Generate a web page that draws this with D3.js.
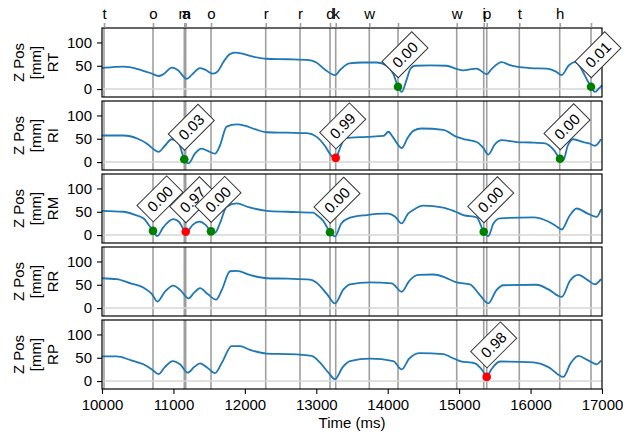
<!DOCTYPE html>
<html>
<head>
<meta charset="utf-8">
<script src="https://cdn.jsdelivr.net/npm/d3@7"></script>
<style>
  body { margin: 0; background: #fff; }
  svg { font-family: "Liberation Sans", Arial, sans-serif; }
</style>
</head>
<body>
<svg width="623" height="436"></svg>
<script>
// key press times (ms) and the typed character
const eventTimes = [10028, 10714, 11152, 11172, 11526, 12292, 12772, 13192, 13272, 13742, 14144, 14966, 15344, 15386, 15842, 16408, 16846];
const eventLabels = ["t", "o", "m", "a", "o", "r", "r", "d", "k", "w", " ", "w", "i", "p", "t", "h", " "];

const fingers = ["RT", "RI", "RM", "RR", "RP"];

// [time ms, z mm]
const zRT = [[10000,45],[10150,47],[10300,48],[10500,43],[10700,33],[10790,28],[10850,31],[10980,46],[11060,41],[11185,22],[11260,31],[11372,45],[11450,41],[11555,33],[11620,38],[11700,58],[11790,75],[11870,78],[11960,76],[12100,70],[12300,65],[12600,64],[12900,62],[13000,57],[13120,42],[13262,30],[13340,42],[13460,55],[13650,57],[13850,57],[13985,50],[14080,32],[14144,5],[14196,-6],[14260,18],[14320,44],[14382,50],[14600,51],[14825,50],[14950,44],[15055,40],[15245,44],[15386,32],[15460,44],[15596,58],[15700,52],[15806,48],[16000,45],[16226,44],[16350,38],[16436,30],[16530,50],[16622,58],[16700,46],[16790,20],[16846,5],[16902,-6],[16960,2],[17000,8]];
const zRI = [[10000,57],[10300,57],[10500,50],[10625,40],[10720,28],[10790,22],[10880,35],[10975,49],[11066,43],[11152,6],[11212,-3],[11300,18],[11393,29],[11480,24],[11582,18],[11650,35],[11745,76],[11885,81],[12000,78],[12150,70],[12306,64],[12600,63],[12866,62],[13006,54],[13120,35],[13216,13],[13272,9],[13332,30],[13402,51],[13705,54],[13940,56],[14010,65],[14070,54],[14196,30],[14280,52],[14358,67],[14476,72],[14778,69],[14965,54],[15100,48],[15245,43],[15340,30],[15408,16],[15500,38],[15596,47],[15806,43],[16000,42],[16202,40],[16330,25],[16412,7],[16458,4],[16520,35],[16598,49],[16738,43],[16820,40],[16902,35],[16986,49]];
const zRM = [[10000,52],[10299,50],[10450,44],[10579,36],[10714,9],[10775,-2],[10850,15],[10999,34],[11080,28],[11172,7],[11186,7],[11270,22],[11362,29],[11450,22],[11526,8],[11582,5],[11650,25],[11745,61],[11885,68],[12050,60],[12306,52],[12600,50],[12958,48],[13006,43],[13100,30],[13192,6],[13262,-3],[13350,25],[13448,36],[13705,43],[13950,46],[14008,46],[14100,40],[14196,25],[14280,45],[14358,54],[14498,63],[14778,59],[14950,50],[15058,43],[15245,38],[15344,7],[15408,-2],[15480,25],[15572,36],[16038,38],[16248,29],[16350,20],[16436,12],[16540,40],[16646,57],[16800,46],[16926,39],[16986,55]];
const zRR = [[10000,64],[10205,62],[10400,53],[10579,44],[10700,30],[10775,14],[10880,35],[10999,48],[11100,38],[11212,21],[11290,33],[11372,43],[11480,30],[11596,18],[11680,40],[11792,79],[11885,80],[12072,71],[12306,64],[12600,63],[12912,61],[13000,55],[13150,30],[13262,10],[13380,40],[13472,51],[13752,55],[14056,53],[14196,35],[14300,58],[14428,71],[14638,72],[14800,66],[14965,55],[15152,51],[15280,30],[15408,10],[15520,38],[15618,49],[16085,50],[16250,40],[16436,24],[16550,58],[16668,71],[16800,60],[16902,51],[16986,62]];
const zRP = [[10000,53],[10205,53],[10400,45],[10579,36],[10700,25],[10789,15],[10880,30],[10990,43],[11100,35],[11200,18],[11290,30],[11372,38],[11480,28],[11582,17],[11680,40],[11815,75],[11932,75],[12072,67],[12306,59],[12600,58],[12936,54],[13050,40],[13170,18],[13262,4],[13370,30],[13472,43],[13752,48],[14078,43],[14196,25],[14300,48],[14452,60],[14778,58],[14900,50],[15012,43],[15222,38],[15330,22],[15386,9],[15450,25],[15572,42],[16038,40],[16250,30],[16458,9],[16560,38],[16668,54],[16800,45],[16926,36],[16986,44]];

// [time ms, z mm, probability]
const hitsRT = [[14144, 5, 0.00], [16846, 5, 0.01]];
const hitsRI = [[11152, 6, 0.03], [13272, 9, 0.99], [16412, 7, 0.00]];
const hitsRM = [[10714, 9, 0.00], [11172, 7, 0.97], [11526, 8, 0.00], [13192, 6, 0.00], [15344, 7, 0.00]];
const hitsRR = [];
const hitsRP = [[15386, 9, 0.98]];

const xTicks = [10000, 11000, 12000, 13000, 14000, 15000, 16000, 17000];
const yTicks = [0, 50, 100];

const series = [zRT, zRI, zRM, zRR, zRP];
const hits = [hitsRT, hitsRI, hitsRM, hitsRR, hitsRP];

const left = 102, right = 602;
const tops = [28, 101, 174, 247, 320];
const panelH = 69;
const fontSize = 15;

const svg = d3.select("svg");
const x = d3.scaleLinear([10000, 17000], [left, right]);

const annoLayer = [];

fingers.forEach((name, i) => {
  const top = tops[i];
  const y = d3.scaleLinear([-17, 131], [top + panelH, top]);
  const g = svg.append("g");

  // key press lines
  g.append("g")
    .selectAll("line")
    .data(eventTimes)
    .join("line")
      .attr("x1", d => x(d)).attr("x2", d => x(d))
      .attr("y1", top).attr("y2", top + panelH)
      .attr("stroke", "#808080")
      .attr("stroke-opacity", 0.75)
      .attr("stroke-width", 1.6);

  g.append("line")
    .attr("x1", left).attr("x2", right)
    .attr("y1", y(0)).attr("y2", y(0))
    .attr("stroke", "#d6d6d6")
    .attr("stroke-width", 1.5);

  const line = d3.line()
    .x(d => x(d[0]))
    .y(d => y(d[1]))
    .curve(d3.curveMonotoneX);

  g.append("path")
    .datum(series[i])
    .attr("d", line)
    .attr("fill", "none")
    .attr("stroke", "#1f77b4")
    .attr("stroke-width", 1.8);

  g.append("g")
    .selectAll("circle")
    .data(hits[i])
    .join("circle")
      .attr("cx", d => x(d[0]))
      .attr("cy", d => y(d[1]))
      .attr("r", 4.3)
      .attr("fill", d => d[2] > 0.5 ? "#ff0000" : "#008000");

  hits[i].forEach(d => annoLayer.push({ px: x(d[0]), py: y(d[1]), text: d[2].toFixed(2) }));

  g.append("rect")
    .attr("x", left).attr("y", top)
    .attr("width", right - left).attr("height", panelH)
    .attr("fill", "none")
    .attr("stroke", "#000")
    .attr("stroke-width", 1.2);

  const yAxis = g.append("g")
    .attr("transform", `translate(${left},0)`)
    .call(d3.axisLeft(y).tickValues(yTicks).tickSize(5).tickPadding(5));
  yAxis.select(".domain").remove();
  yAxis.selectAll("line").attr("stroke-width", 1.1);
  yAxis.selectAll("text").attr("font-size", fontSize).attr("font-family", null).attr("fill", "#000");

  const lab = g.append("text")
    .attr("transform", `translate(0,${top + panelH / 2}) rotate(-90)`)
    .attr("text-anchor", "middle")
    .attr("font-size", fontSize);
  ["Z Pos", "[mm]", name].forEach((t, k) => {
    lab.append("tspan").attr("x", 0).attr("y", 24 + k * 17).text(t);
  });

  if (i === 0) {
    const topAxis = g.append("g")
      .attr("transform", `translate(0,${top})`)
      .call(d3.axisTop(x).tickValues(eventTimes).tickFormat((d, k) => eventLabels[k]).tickSize(5).tickPadding(4));
    topAxis.select(".domain").remove();
    topAxis.selectAll("line").attr("stroke", "#808080").attr("stroke-opacity", 0.75).attr("stroke-width", 1.6);
    topAxis.selectAll("text").attr("font-size", fontSize).attr("font-family", null).attr("fill", "#000");
  }

  if (i === fingers.length - 1) {
    const xAxis = g.append("g")
      .attr("transform", `translate(0,${top + panelH})`)
      .call(d3.axisBottom(x).tickValues(xTicks).tickFormat(d3.format("d")).tickSize(5).tickPadding(5));
    xAxis.select(".domain").remove();
    xAxis.selectAll("line").attr("stroke-width", 1.1);
    xAxis.selectAll("text").attr("font-size", fontSize).attr("font-family", null).attr("fill", "#000");

    g.append("text")
      .attr("x", (left + right) / 2)
      .attr("y", 428)
      .attr("text-anchor", "middle")
      .attr("font-size", fontSize)
      .text("Time (ms)");
  }
});

// probability boxes on top of everything
const anno = svg.append("g")
  .selectAll("g")
  .data(annoLayer)
  .join("g")
    .attr("transform", d => `translate(${d.px + 7},${d.py - 32}) rotate(-45)`);

anno.append("rect")
  .attr("x", -21).attr("y", -11.5)
  .attr("width", 42).attr("height", 23)
  .attr("fill", "#fff")
  .attr("stroke", "#333")
  .attr("stroke-width", 1);

anno.append("text")
  .attr("text-anchor", "middle")
  .attr("dy", "0.35em")
  .attr("font-size", fontSize)
  .text(d => d.text);
</script>
</body>
</html>
